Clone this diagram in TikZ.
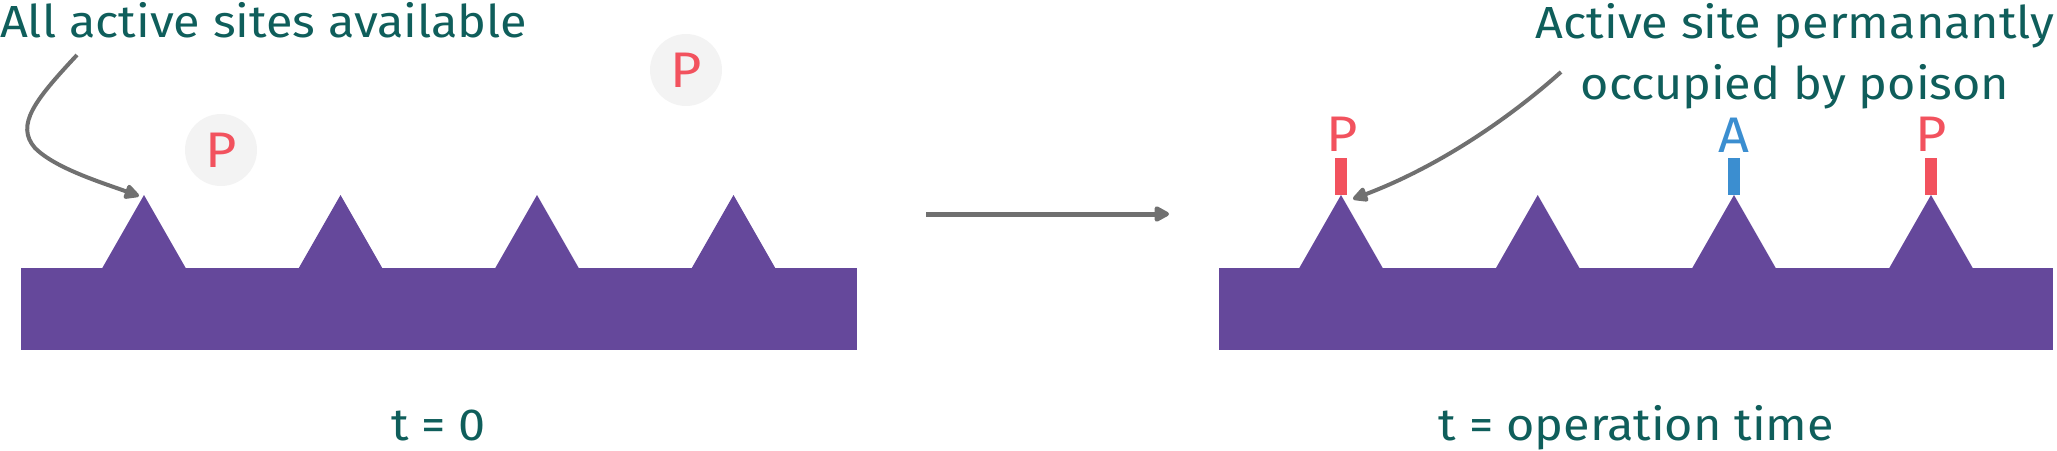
\documentclass[tikz,border=0pt]{standalone}
\usepackage{fontspec}
\setmainfont{Fira Sans}[FakeStretch=1.08]
\usetikzlibrary{arrows.meta}
\definecolor{tealtxt}{HTML}{0F5E5B}
\definecolor{purp}{HTML}{65489B}
\definecolor{redp}{HTML}{F2525E}
\definecolor{bluea}{HTML}{3B8ED0}
\definecolor{grayarr}{HTML}{707070}
\definecolor{circfill}{HTML}{F3F3F3}
\tikzset{
  lbl/.style={text=tealtxt, font=\fontsize{45}{61}\selectfont, inner sep=0pt, outer sep=0pt},
  sitelbl/.style={font=\fontsize{50}{60}\selectfont, inner sep=0pt, outer sep=0pt},
  arr/.style={draw=grayarr, line width=4pt, -{Triangle[length=17pt,width=16pt,round]}},
  bar/.style={minimum width=12pt, minimum height=37pt, inner sep=0pt, outer sep=0pt},
  molecule/.style={circle, fill=circfill, minimum size=72pt, inner sep=0pt, text=redp, font=\fontsize{50}{60}\selectfont},
}
\begin{document}
\begin{tikzpicture}[x=1pt,y=-1pt]
\useasboundingbox (0,0) rectangle (2057,450);
% left surface
\fill[purp] (21,268) rectangle (856.5,350);
\foreach \p in {144,340.5,537,733.5}{
  \fill[purp] ({\p-42},268.5) -- (\p,195) -- ({\p+42},268.5) -- cycle;
}
% right surface
\fill[purp] (1219,268) rectangle (2053,350);
\foreach \p in {1341,1537.7,1734,1931}{
  \fill[purp] ({\p-42},268.5) -- (\p,195) -- ({\p+42},268.5) -- cycle;
}
% labels
\node[lbl, anchor=base west] (lefttxt) at (0,37) {All active sites available};
\node[lbl, anchor=base, align=center] (righttxt) at (1795,99) {Active site permanantly\\occupied by poison};
\node[lbl, anchor=base] (t0) at (438.7,440) {t = 0};
\node[lbl, anchor=base] (top) at (1636.5,440) {t = operation time};
% molecules
\node[molecule] (m1) at (221,150) {P};
\node[molecule] (m2) at (686,70) {P};
% adsorbed species
\node[bar, fill=redp] (b1) at (1341,176.5) {};
\node[bar, fill=bluea] (b2) at (1734,176.5) {};
\node[bar, fill=redp] (b3) at (1931,176.5) {};
\node[sitelbl, text=redp, anchor=base] (p1) at (1342,151) {P};
\node[sitelbl, text=bluea, anchor=base] (a1) at (1734,152) {A};
\node[sitelbl, text=redp, anchor=base] (p3) at (1931,151) {P};
% arrows
\coordinate (s1) at (77,55);
\coordinate (e1) at (139,196);
\draw[arr] (s1) .. controls (35,100) and (15,125) .. (35,148) .. controls (55,168) and (100,182) .. (e1);
\coordinate (s2) at (1561,72);
\coordinate (e2) at (1353,199);
\draw[arr] (s2) .. controls (1505,122) and (1435,168) .. (e2);
\coordinate (ms) at (926,214);
\coordinate (me) at (1169,214);
\draw[arr, line width=5pt, -{Triangle[length=17pt,width=17pt,round]}] (ms) -- (me);
\end{tikzpicture}
\end{document}
